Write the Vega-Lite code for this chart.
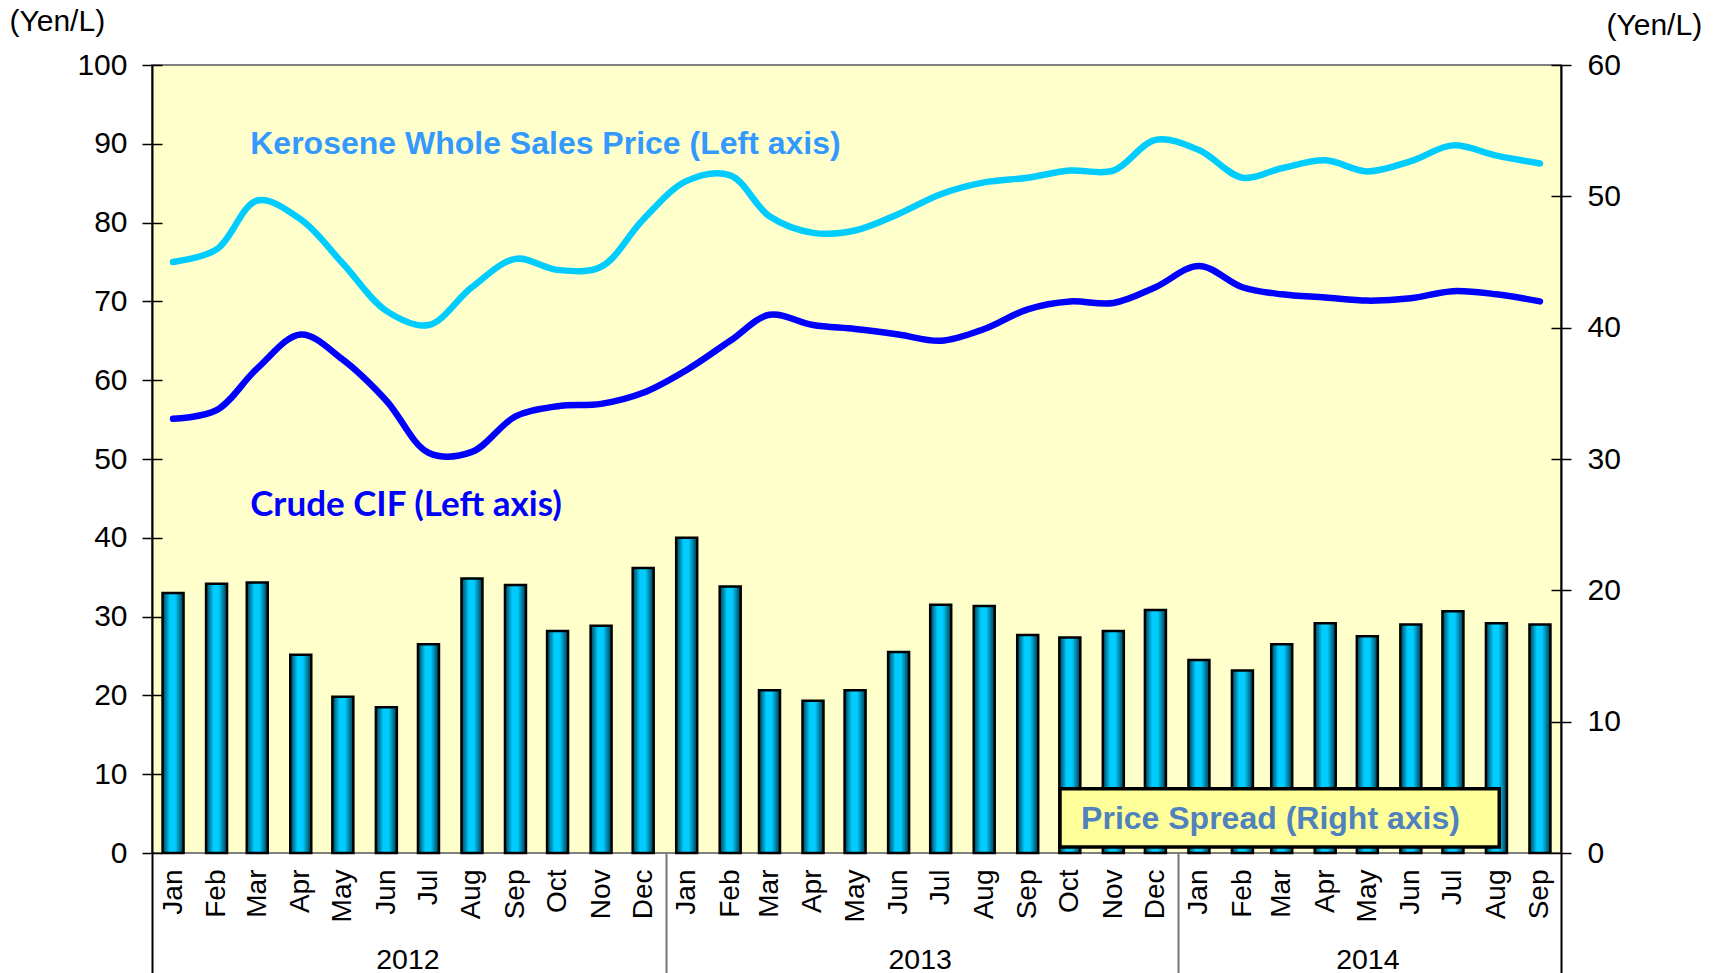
{
  "$schema": "https://vega.github.io/schema/vega-lite/v6.json",
  "autosize": {"type": "none"},
  "width": 1409,
  "height": 788,
  "padding": {"left": 152, "top": 65, "right": 158, "bottom": 120},
  "background": "white",
  "config": {
    "view": {"fill": "#FFFFCC", "stroke": "#808080", "strokeWidth": 2},
    "scale": {"continuousPadding": 0},
    "axis": {
      "labelFont": "Liberation Sans", "labelColor": "black", "labelFontSize": 30,
      "titleFont": "Liberation Sans", "titleColor": "black", "titleFontWeight": "normal", "titleFontSize": 30,
      "grid": false, "tickColor": "black", "domainColor": "black"
    }
  },
  "datasets": {
    "prices": [
      {"date": "2012-01-16", "kerosene": 75.0, "crude": 55.1, "spread": 19.8},
      {"date": "2012-02-16", "kerosene": 76.6, "crude": 56.2, "spread": 20.5},
      {"date": "2012-03-16", "kerosene": 82.8, "crude": 61.5, "spread": 20.6},
      {"date": "2012-04-16", "kerosene": 80.4, "crude": 65.8, "spread": 15.1},
      {"date": "2012-05-16", "kerosene": 74.8, "crude": 62.6, "spread": 11.9},
      {"date": "2012-06-16", "kerosene": 68.8, "crude": 57.4, "spread": 11.1},
      {"date": "2012-07-16", "kerosene": 67.0, "crude": 50.8, "spread": 15.9},
      {"date": "2012-08-16", "kerosene": 71.8, "crude": 50.9, "spread": 20.9},
      {"date": "2012-09-16", "kerosene": 75.4, "crude": 55.4, "spread": 20.4},
      {"date": "2012-10-16", "kerosene": 74.0, "crude": 56.7, "spread": 16.9},
      {"date": "2012-11-16", "kerosene": 74.4, "crude": 57.0, "spread": 17.3},
      {"date": "2012-12-16", "kerosene": 80.4, "crude": 58.4, "spread": 21.7},
      {"date": "2013-01-16", "kerosene": 85.3, "crude": 61.3, "spread": 24.0},
      {"date": "2013-02-16", "kerosene": 86.0, "crude": 65.0, "spread": 20.3},
      {"date": "2013-03-16", "kerosene": 80.8, "crude": 68.3, "spread": 12.4},
      {"date": "2013-04-16", "kerosene": 78.7, "crude": 67.0, "spread": 11.6},
      {"date": "2013-05-16", "kerosene": 79.0, "crude": 66.5, "spread": 12.4},
      {"date": "2013-06-16", "kerosene": 81.1, "crude": 65.8, "spread": 15.3},
      {"date": "2013-07-16", "kerosene": 83.6, "crude": 65.0, "spread": 18.9},
      {"date": "2013-08-16", "kerosene": 85.1, "crude": 66.5, "spread": 18.8},
      {"date": "2013-09-16", "kerosene": 85.7, "crude": 69.0, "spread": 16.6},
      {"date": "2013-10-16", "kerosene": 86.6, "crude": 70.0, "spread": 16.4},
      {"date": "2013-11-16", "kerosene": 86.6, "crude": 69.8, "spread": 16.9},
      {"date": "2013-12-16", "kerosene": 90.5, "crude": 71.8, "spread": 18.5},
      {"date": "2014-01-16", "kerosene": 89.2, "crude": 74.5, "spread": 14.7},
      {"date": "2014-02-16", "kerosene": 85.7, "crude": 71.8, "spread": 13.9},
      {"date": "2014-03-16", "kerosene": 86.9, "crude": 70.9, "spread": 15.9},
      {"date": "2014-04-16", "kerosene": 87.9, "crude": 70.5, "spread": 17.5},
      {"date": "2014-05-16", "kerosene": 86.5, "crude": 70.1, "spread": 16.5},
      {"date": "2014-06-16", "kerosene": 87.8, "crude": 70.4, "spread": 17.4},
      {"date": "2014-07-16", "kerosene": 89.8, "crude": 71.3, "spread": 18.4},
      {"date": "2014-08-16", "kerosene": 88.5, "crude": 70.9, "spread": 17.5},
      {"date": "2014-09-16", "kerosene": 87.5, "crude": 70.0, "spread": 17.4}
    ]
  },
  "layer": [
    {
      "layer": [
        {
          "data": {"name": "prices"},
          "mark": {"type": "line", "color": "#00CCFF", "strokeWidth": 6.5, "interpolate": "catmull-rom", "strokeCap": "round"},
          "encoding": {
            "x": {
              "field": "date", "type": "temporal",
              "scale": {"type": "utc", "padding": 0, "domain": [{"year": 2012, "month": 1, "date": 1, "utc": true}, {"year": 2014, "month": 10, "date": 1, "utc": true}]},
              "axis": {
                "orient": "bottom", "title": null, "tickCount": {"interval": "month", "step": 1},
                "labelExpr": "utcyear(datum.value) == 2014 && utcmonth(datum.value) == 9 ? '' : utcFormat(datum.value, '%b')",
                "labelAngle": 270, "labelOffset": 21, "labelPadding": 16, "ticks": false, "tickSize": 0, "domain": false,
                "labelFontSize": 28, "labelOverlap": false, "labelFlush": false, "labelBound": false
              }
            },
            "y": {
              "field": "kerosene", "type": "quantitative", "scale": {"domain": [0, 100]},
              "axis": {
                "orient": "left", "values": [0, 10, 20, 30, 40, 50, 60, 70, 80, 90, 100],
                "tickSize": 10, "tickWidth": 1.5, "domainWidth": 2, "labelPadding": 15,
                "title": "(Yen/L)", "titleAngle": 0, "titleAlign": "left", "titleBaseline": "middle", "titleX": -143, "titleY": -44
              }
            }
          }
        },
        {
          "data": {"name": "prices"},
          "mark": {"type": "line", "color": "#0000FF", "strokeWidth": 6.5, "interpolate": "catmull-rom", "strokeCap": "round"},
          "encoding": {
            "x": {
              "field": "date", "type": "temporal",
              "scale": {"type": "utc", "padding": 0, "domain": [{"year": 2012, "month": 1, "date": 1, "utc": true}, {"year": 2014, "month": 10, "date": 1, "utc": true}]},
              "axis": {
                "orient": "bottom", "title": null,
                "values": [{"year": 2012, "month": 1, "date": 1, "utc": true}, {"year": 2013, "month": 1, "date": 1, "utc": true}, {"year": 2014, "month": 1, "date": 1, "utc": true}, {"year": 2014, "month": 10, "date": 1, "utc": true}],
                "labels": false, "domain": false, "tickSize": 120, "tickWidth": 2,
                "tickColor": {"condition": {"test": "utcyear(datum.value) == 2012 || utcmonth(datum.value) == 9", "value": "black"}, "value": "#777777"}
              }
            },
            "y": {
              "field": "crude", "type": "quantitative", "scale": {"domain": [0, 100]},
              "axis": {
                "orient": "left", "offset": -10, "values": [0, 10, 20, 30, 40, 50, 60, 70, 80, 90, 100],
                "tickSize": 10, "tickWidth": 1.5, "labels": false, "domain": false, "title": null
              }
            }
          }
        },
        {
          "data": {"values": [{"label": "Kerosene Whole Sales Price (Left axis)"}]},
          "mark": {"type": "text", "align": "left", "baseline": "middle", "font": "Liberation Sans", "fontWeight": "bold", "fontSize": 32, "color": "#3399FF"},
          "encoding": {
            "text": {"field": "label"},
            "x": {"datum": {"year": 2012, "month": 3, "date": 11, "utc": true}, "type": "temporal", "scale": {"type": "utc"}, "axis": null},
            "y": {"datum": 90, "type": "quantitative", "axis": null}
          }
        },
        {
          "data": {"values": [{"label": "Crude CIF (Left axis)"}]},
          "mark": {"type": "text", "align": "left", "baseline": "middle", "font": "Lato", "fontWeight": "bold", "fontSize": 35, "color": "#0000FF"},
          "encoding": {
            "text": {"field": "label"},
            "x": {"datum": {"year": 2012, "month": 3, "date": 11, "utc": true}, "type": "temporal", "scale": {"type": "utc"}, "axis": null},
            "y": {"datum": 44.1, "type": "quantitative", "axis": null}
          }
        }
      ],
      "resolve": {"axis": {"x": "independent", "y": "independent"}}
    },
    {
      "layer": [
        {
          "data": {"name": "prices"},
          "mark": {
            "type": "bar", "width": 21, "stroke": "black", "strokeWidth": 2.5,
            "fill": {"gradient": "linear", "x1": 0, "y1": 0, "x2": 1, "y2": 0,
              "stops": [{"offset": 0, "color": "#003F52"}, {"offset": 0.35, "color": "#00CCFF"}, {"offset": 0.6, "color": "#00CCFF"}, {"offset": 1, "color": "#003A4C"}]}
          },
          "encoding": {
            "x": {
              "field": "date", "type": "temporal",
              "scale": {"type": "utc", "padding": 0, "domain": [{"year": 2012, "month": 1, "date": 1, "utc": true}, {"year": 2014, "month": 10, "date": 1, "utc": true}]},
              "axis": {
                "orient": "bottom", "title": null,
                "values": [{"year": 2012, "month": 7, "date": 1, "utc": true}, {"year": 2013, "month": 7, "date": 1, "utc": true}, {"year": 2014, "month": 5, "date": 16, "utc": true}],
                "labelExpr": "utcFormat(datum.value, '%Y')",
                "ticks": false, "tickSize": 0, "domain": false, "labelPadding": 92, "labelFontSize": 28.5, "labelAngle": 0,
                "labelOverlap": false, "labelFlush": false, "labelBound": false
              }
            },
            "y": {
              "field": "spread", "type": "quantitative", "scale": {"domain": [0, 60]},
              "axis": {
                "orient": "right", "values": [0, 10, 20, 30, 40, 50, 60],
                "tickSize": 10, "tickWidth": 1.5, "domainWidth": 2, "labelPadding": 16,
                "title": "(Yen/L)", "titleAngle": 0, "titleAlign": "left", "titleBaseline": "middle", "titleX": 45, "titleY": -40
              }
            }
          }
        },
        {
          "data": {"values": [{"label": "Price Spread (Right axis)"}]},
          "mark": {"type": "rect", "fill": "#FFFF99", "stroke": "black", "strokeWidth": 3.5},
          "encoding": {
            "x": {"datum": {"year": 2013, "month": 10, "date": 9, "utc": true}, "type": "temporal", "scale": {"type": "utc"}, "axis": null},
            "x2": {"datum": {"year": 2014, "month": 8, "date": 18, "utc": true}},
            "y": {
              "datum": 4.9, "type": "quantitative",
              "axis": {
                "orient": "right", "offset": -10, "values": [0, 10, 20, 30, 40, 50, 60],
                "tickSize": 10, "tickWidth": 1.5, "labels": false, "domain": false, "title": null
              }
            },
            "y2": {"datum": 0.45}
          }
        },
        {
          "data": {"values": [{"label": "Price Spread (Right axis)"}]},
          "mark": {"type": "text", "align": "center", "baseline": "middle", "font": "Liberation Sans", "fontWeight": "bold", "fontSize": 32, "color": "#4F81BD"},
          "encoding": {
            "text": {"field": "label"},
            "x": {"datum": {"year": 2014, "month": 3, "date": 8, "utc": true}, "type": "temporal", "scale": {"type": "utc"}, "axis": null},
            "y": {"datum": 2.6, "type": "quantitative", "axis": null}
          }
        }
      ],
      "resolve": {"axis": {"x": "independent", "y": "independent"}}
    }
  ],
  "resolve": {"scale": {"y": "independent"}, "axis": {"x": "independent", "y": "independent"}}
}
